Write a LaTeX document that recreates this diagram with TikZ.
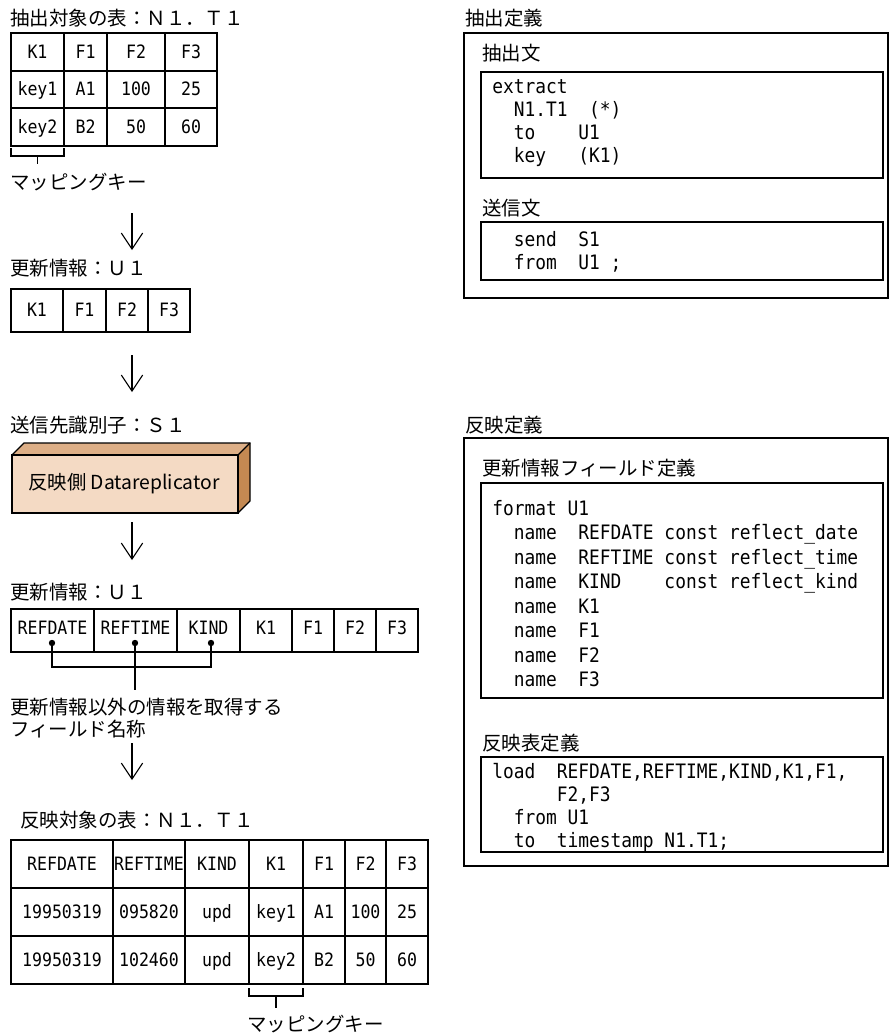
\documentclass[tikz,border=0pt]{standalone}
\usepackage{fontspec}
\setmainfont{Noto Sans CJK JP}
\newfontfamily\codefont{DejaVu Sans Mono}[FakeStretch=0.9]
\usepackage{xcolor}
\usepackage{tikz}
\usetikzlibrary{arrows.meta, positioning, calc}

\definecolor{boxfront}{RGB}{244,218,196}
\definecolor{boxtop}{RGB}{221,175,135}
\definecolor{boxside}{RGB}{196,137,82}

\tikzset{
  lbl/.style={anchor=west, inner sep=0pt, font=\fontsize{14.6pt}{17pt}\selectfont},
  cell/.style={anchor=base, inner sep=0pt, font=\codefont\fontsize{13.8pt}{15pt}\selectfont},
  code/.style={anchor=base west, inner sep=0pt, font=\codefont\fontsize{14.9pt}{16pt}\selectfont},
  grid/.style={line width=1.2pt},
  frame/.style={line width=1pt},
  flow/.style={-{Straight Barb[length=12pt,width=16pt]}, line width=0.8pt},
}

\begin{document}
\begin{tikzpicture}[x=0.75pt, y=-0.75pt]
  \useasboundingbox (0,0) rectangle (889,1035);

  % Source table
  \node[lbl] (srclbl) at (10,18) {抽出対象の表：Ｎ１．Ｔ１};
  \draw[grid] (11,33) rectangle (217,146);
  \foreach \x in {64,107,165} \draw[grid] (\x,33) -- (\x,146);
  \foreach \y in {71,108} \draw[grid] (11,\y) -- (217,\y);
  \foreach \cx/\a/\b/\c [count=\i] in {37.5/K1/key1/key2, 85.5/F1/A1/B2, 136/F2/100/50, 191/F3/25/60} {
    \node[cell] (sa\i) at (\cx,58) {\a};
    \node[cell] (sb\i) at (\cx,95.5) {\b};
    \node[cell] (sc\i) at (\cx,133) {\c};
  }
  % Mapping key (source)
  \draw[frame] (11,148) -- (11,156) -- (64,156) -- (64,148);
  \draw[frame] (37.5,156) -- (37.5,164);
  \node[lbl] (mapkeya) at (10,182) {マッピングキー};

  % Arrow to update info
  \coordinate (ars) at (132,213);
  \coordinate (are) at (132,250);
  \draw[flow] (ars) -- (are);

  % Update info U1
  \node[lbl] (updlbla) at (10,268) {更新情報：Ｕ１};
  \draw[grid] (11,289) rectangle (190,332);
  \foreach \x in {63,106,148} \draw[grid] (\x,289) -- (\x,332);
  \foreach \cx/\t [count=\i] in {37/K1, 84.5/F1, 127/F2, 169/F3}
    \node[cell] (ua\i) at (\cx,316.5) {\t};

  \coordinate (brs) at (132,355);
  \coordinate (bre) at (132,392);
  \draw[flow] (brs) -- (bre);

  % Reflecting side
  \node[lbl] (destlbl) at (10,425) {送信先識別子：Ｓ１};
  \fill[boxtop] (12,455) -- (24,443) -- (250,443) -- (238,455) -- cycle;
  \fill[boxside] (238,455) -- (250,443) -- (250,501) -- (238,513) -- cycle;
  \fill[boxfront] (12,455) rectangle (238,513);
  \draw[frame] (12,455) rectangle (238,513);
  \draw[frame] (12,455) -- (24,443) -- (250,443) -- (250,501) -- (238,513);
  \draw[frame] (238,455) -- (250,443);
  \node[inner sep=0pt, font=\fontsize{14.5pt}{16pt}\selectfont] (repl) at (124,484) {反映側 Datareplicator};

  \coordinate (crs) at (132,522);
  \coordinate (cre) at (132,560);
  \draw[flow] (crs) -- (cre);

  % Update info with extra fields
  \node[lbl] (updlblb) at (10,592) {更新情報：Ｕ１};
  \draw[grid] (11,609) rectangle (418,652);
  \foreach \x in {94,177,240,292,334,376} \draw[grid] (\x,609) -- (\x,652);
  \foreach \cx/\t [count=\i] in {52.5/REFDATE, 135.5/REFTIME, 208.5/KIND, 266/K1, 313/F1, 355/F2, 397/F3}
    \node[cell] (ub\i) at (\cx,634) {\t};
  % Extra field marks
  \coordinate (da) at (52,643);
  \coordinate (db) at (135,643);
  \coordinate (dc) at (211,643);
  \foreach \d in {da,db,dc} \fill (\d) circle (3.2);
  \draw[frame] (da) -- (52,667) -- (211,667) -- (dc);
  \draw[frame] (db) -- (135,690);
  \node[lbl] (extralbla) at (10,707) {更新情報以外の情報を取得する};
  \node[lbl] (extralblb) at (10,729) {フィールド名称};

  \coordinate (drs) at (132,743);
  \coordinate (dre) at (132,780);
  \draw[flow] (drs) -- (dre);

  % Target table
  \node[lbl] (tgtlbl) at (20,820) {反映対象の表：Ｎ１．Ｔ１};
  \draw[grid] (11,840) rectangle (428,984);
  \foreach \x in {113,185,249,303,345,386} \draw[grid] (\x,840) -- (\x,984);
  \foreach \y in {888,936} \draw[grid] (11,\y) -- (428,\y);
  \foreach \cx/\a/\b/\c [count=\i] in {62/REFDATE/19950319/19950319, 149/REFTIME/095820/102460,
      217/KIND/upd/upd, 276/K1/key1/key2, 324/F1/A1/B2, 365.5/F2/100/50, 407/F3/25/60} {
    \node[cell] (ta\i) at (\cx,870) {\a};
    \node[cell] (tb\i) at (\cx,918) {\b};
    \node[cell] (tc\i) at (\cx,966) {\c};
  }
  % Mapping key (target)
  \draw[frame] (249,988) -- (249,996) -- (303,996) -- (303,988);
  \draw[frame] (276,996) -- (276,1008);
  \node[lbl] (mapkeyb) at (247,1024) {マッピングキー};

  % Extract definition
  \node[lbl] (extdef) at (465,18) {抽出定義};
  \draw[frame] (464,33) rectangle (888,298);
  \node[lbl] (extstmt) at (482,53) {抽出文};
  \draw[frame] (481,72) rectangle (883,178);
  \node[code] (ea) at (492,93) {extract};
  \node[code] (eb) at (492,116) {~~N1.T1~~(*)};
  \node[code] (ec) at (492,139) {~~to~~~~U1};
  \node[code] (ed) at (492,162) {~~key~~~(K1)};
  \node[lbl] (sendstmt) at (482,208) {送信文};
  \draw[frame] (481,222) rectangle (883,280);
  \node[code] (sa) at (492,246) {~~send~~S1};
  \node[code] (sb) at (492,269) {~~from~~U1~;};

  % Reflect definition
  \node[lbl] (refdef) at (465,425) {反映定義};
  \draw[frame] (464,438) rectangle (888,866);
  \node[lbl] (fmtstmt) at (482,468) {更新情報フィールド定義};
  \draw[frame] (481,483) rectangle (883,698);
  \foreach \t [count=\i from 0] in {format~U1,
      ~~name~~REFDATE~const~reflect\_date,
      ~~name~~REFTIME~const~reflect\_time,
      ~~name~~KIND~~~~const~reflect\_kind,
      ~~name~~K1, ~~name~~F1, ~~name~~F2, ~~name~~F3}
    \node[code] (fm\i) at (492,515+24.5*\i) {\t};
  \node[lbl] (loadstmt) at (482,743) {反映表定義};
  \draw[frame] (481,757) rectangle (883,852);
  \node[code] (la) at (492,778) {load~~REFDATE,REFTIME,KIND,K1,F1,};
  \node[code] (lb) at (492,801) {~~~~~~F2,F3};
  \node[code] (lc) at (492,824) {~~from~U1};
  \node[code] (ld) at (492,847) {~~to~~timestamp~N1.T1;};
\end{tikzpicture}
\end{document}
